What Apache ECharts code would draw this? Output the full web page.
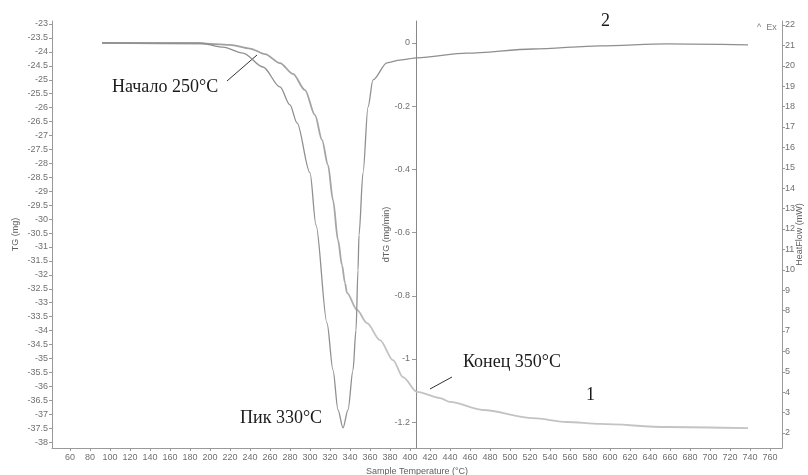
<!DOCTYPE html>
<html>
<head>
<meta charset="utf-8">
<title>TG / dTG</title>
<script src="https://cdn.jsdelivr.net/npm/echarts@6/dist/echarts.min.js"></script>
<style>
html, body { margin: 0; padding: 0; background: #fff; }
#chart { width: 808px; height: 475px; }
</style>
</head>
<body>
<div id="chart"></div>
<script>
// curve 1 - TG, mass (mg) vs sample temperature
var tgTemp = [92, 190, 220, 240, 255, 270, 283, 295, 305, 312, 318, 323, 328, 332, 335, 337, 347, 357, 370, 383, 393, 407, 430, 440, 473, 523, 557, 590, 657, 738];
var tgMass = [-23.68, -23.70, -23.75, -23.88, -24.08, -24.40, -24.79, -25.37, -26.27, -27.16, -28.06, -29.32, -30.75, -31.65, -32.29, -32.65, -33.26, -33.73, -34.34, -35.06, -35.67, -36.20, -36.42, -36.56, -36.85, -37.14, -37.28, -37.35, -37.46, -37.50];

// curve 2 - dTG, mg/min
var dtgTemp = [92, 190, 213, 233, 253, 270, 280, 287, 300, 306, 317, 323, 328, 333, 338, 343, 346, 348, 349, 353, 358, 363, 377, 390, 407, 457, 523, 590, 657, 738];
var dtgRate = [0, 0, -0.013, -0.032, -0.076, -0.139, -0.196, -0.253, -0.411, -0.576, -0.886, -1.035, -1.161, -1.218, -1.161, -1.035, -0.908, -0.718, -0.608, -0.411, -0.203, -0.117, -0.063, -0.054, -0.047, -0.032, -0.019, -0.009, -0.003, -0.006];

// tick labels
var tempTicks = [60, 80, 100, 120, 140, 160, 180, 200, 220, 240, 260, 280, 300, 320, 340, 360, 380, 400, 420, 440, 460, 480, 500, 520, 540, 560, 580, 600, 620, 640, 660, 680, 700, 720, 740, 760];
var tgTicks = [-23, -23.5, -24, -24.5, -25, -25.5, -26, -26.5, -27, -27.5, -28, -28.5, -29, -29.5, -30, -30.5, -31, -31.5, -32, -32.5, -33, -33.5, -34, -34.5, -35, -35.5, -36, -36.5, -37, -37.5, -38];
var dtgTicks = [0, -0.2, -0.4, -0.6, -0.8, -1, -1.2];
var heatTicks = [2, 3, 4, 5, 6, 7, 8, 9, 10, 11, 12, 13, 14, 15, 16, 17, 18, 19, 20, 21, 22];

function pairs(xs, ys) {
    var res = [];
    for (var i = 0; i < xs.length; i++) {
        res.push([xs[i], ys[i]]);
    }
    return res;
}

var axisColor = '#9a9a9a';
var labelStyle = { fontSize: 9, color: '#707070', fontFamily: 'Liberation Sans, Arial, sans-serif' };
var nameStyle = { fontSize: 9, color: '#606060', fontFamily: 'Liberation Sans, Arial, sans-serif' };
var serif = '18px "Liberation Serif", "Times New Roman", serif';

var myChart = echarts.init(document.getElementById('chart'));
var option = {
    backgroundColor: '#fff',
    animation: false,
    grid: { left: 52, right: 26, top: 21, bottom: 27, containLabel: false, outerBoundsMode: 'none' },
    xAxis: {
        type: 'value',
        min: 42,
        max: 772,
        name: 'Sample Temperature (°C)',
        nameLocation: 'middle',
        nameGap: 16,
        nameTextStyle: nameStyle,
        axisLine: { onZero: false, lineStyle: { color: axisColor } },
        axisTick: { show: true, length: 3, customValues: tempTicks, lineStyle: { color: axisColor } },
        axisLabel: Object.assign({ customValues: tempTicks, margin: 5 }, labelStyle),
        splitLine: { show: false }
    },
    yAxis: [
        {
            type: 'value',
            position: 'left',
            min: -38.213,
            max: -22.892,
            name: 'TG (mg)',
            nameLocation: 'middle',
            nameRotate: 90,
            nameGap: 32,
            nameMoveOverlap: false,
            nameTextStyle: nameStyle,
            axisLine: { show: true, onZero: false, lineStyle: { color: axisColor } },
            axisTick: { show: true, length: 3, customValues: tgTicks, lineStyle: { color: axisColor } },
            axisLabel: Object.assign({ customValues: tgTicks, margin: 4 }, labelStyle),
            splitLine: { show: false }
        },
        {
            type: 'value',
            position: 'left',
            offset: -364,
            min: -1.2816,
            max: 0.0696,
            name: 'dTG (mg/min)',
            nameLocation: 'middle',
            nameRotate: 90,
            nameGap: 25,
            nameMoveOverlap: false,
            nameTextStyle: nameStyle,
            axisLine: { show: true, onZero: false, lineStyle: { color: '#888' } },
            axisTick: { show: true, length: 4, customValues: dtgTicks, lineStyle: { color: axisColor } },
            axisLabel: Object.assign({ customValues: dtgTicks, margin: 6 }, labelStyle),
            splitLine: { show: false }
        },
        {
            type: 'value',
            position: 'right',
            min: 1.265,
            max: 22.196,
            name: 'HeatFlow (mW)',
            nameLocation: 'middle',
            nameRotate: 90,
            nameGap: 13,
            nameMoveOverlap: false,
            nameTextStyle: nameStyle,
            axisLine: { show: true, onZero: false, lineStyle: { color: axisColor } },
            axisTick: { show: true, length: 3, customValues: heatTicks, lineStyle: { color: axisColor } },
            axisLabel: Object.assign({ customValues: heatTicks, margin: 3 }, labelStyle),
            splitLine: { show: false }
        }
    ],
    series: [
        {
            name: 'TG',
            type: 'line',
            yAxisIndex: 0,
            data: pairs(tgTemp, tgMass),
            smooth: 0.3,
            smoothMonotone: 'x',
            symbol: 'none',
            lineStyle: {
                width: 1.8,
                color: new echarts.graphic.LinearGradient(0, 0, 1, 0, [
                    { offset: 0, color: '#9a9a9a' },
                    { offset: 0.37, color: '#a5a5a5' },
                    { offset: 0.42, color: '#c2c2c2' },
                    { offset: 1, color: '#c4c4c4' }
                ])
            }
        },
        {
            name: 'dTG',
            type: 'line',
            yAxisIndex: 1,
            data: pairs(dtgTemp, dtgRate),
            smooth: 0.3,
            smoothMonotone: 'x',
            symbol: 'none',
            lineStyle: { width: 1.3, color: '#8f8f8f' }
        }
    ],
    graphic: [
        { type: 'text', style: { x: 112, y: 87, text: 'Начало 250°C', font: serif, fill: '#1a1a1a', verticalAlign: 'middle' } },
        { type: 'line', shape: { x1: 227, y1: 81, x2: 257, y2: 55 }, style: { stroke: '#333', lineWidth: 1 } },
        { type: 'text', style: { x: 240, y: 418, text: 'Пик 330°C', font: serif, fill: '#1a1a1a', verticalAlign: 'middle' } },
        { type: 'text', style: { x: 463, y: 362, text: 'Конец 350°C', font: serif, fill: '#1a1a1a', verticalAlign: 'middle' } },
        { type: 'line', shape: { x1: 430, y1: 389, x2: 452, y2: 377 }, style: { stroke: '#333', lineWidth: 1 } },
        { type: 'text', style: { x: 586, y: 395, text: '1', font: serif, fill: '#1a1a1a', verticalAlign: 'middle' } },
        { type: 'text', style: { x: 601, y: 21, text: '2', font: serif, fill: '#1a1a1a', verticalAlign: 'middle' } },
        { type: 'text', style: { x: 757, y: 28, text: '^  Ex', font: '9px "Liberation Sans", Arial, sans-serif', fill: '#808080', verticalAlign: 'middle' } }
    ]
};
myChart.setOption(option);
</script>
</body>
</html>
